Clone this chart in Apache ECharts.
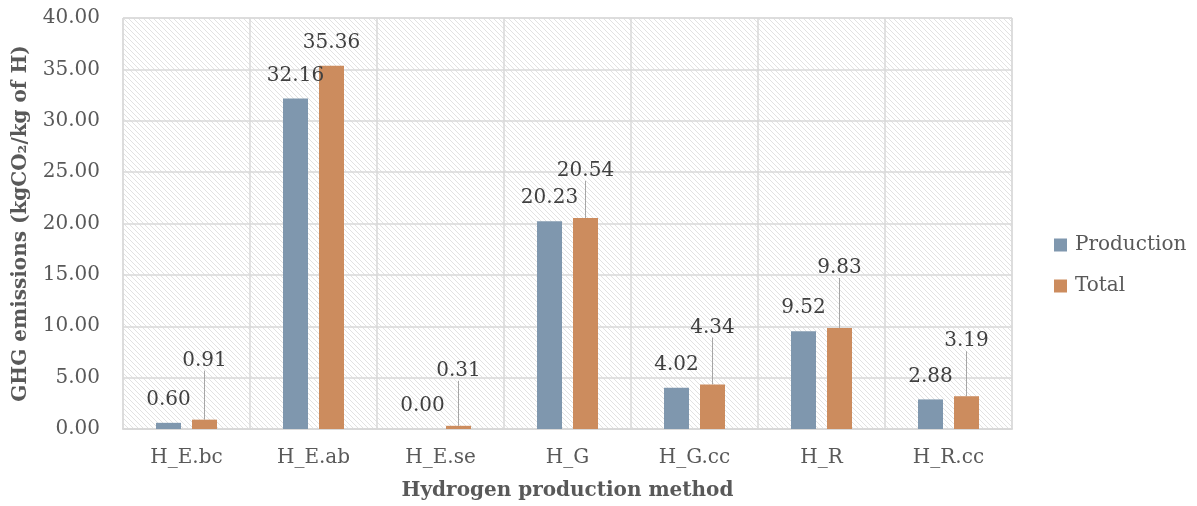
<!DOCTYPE html>
<html>
<head>
<meta charset="utf-8">
<script src="https://cdn.jsdelivr.net/npm/echarts@6/dist/echarts.min.js"></script>
<style>
  html, body { margin: 0; padding: 0; background: #ffffff; }
  #chart { width: 1197px; height: 506px; }
</style>
</head>
<body>
<div id="chart"></div>
<script>
// Hydrogen production routes and their GHG emissions (kgCO2 per kg of H)
const categories = ['H_E.bc', 'H_E.ab', 'H_E.se', 'H_G', 'H_G.cc', 'H_R', 'H_R.cc'];
const production = [0.60, 32.16, 0.00, 20.23, 4.02, 9.52, 2.88];
const total = [0.91, 35.36, 0.31, 20.54, 4.34, 9.83, 3.19];
const yTicks = { min: 0, max: 40, step: 5 };

// How far each "Total" label is pushed up above its bar (with a guide line)
const totalLabelRise = [36, 0, 32, 24, 34, 37, 32];

const FONT = "'DejaVu Serif', 'Liberation Serif', serif";
const TEXT = '#595959';
const LABEL = '#404040';
const GRID = '#d9d9d9';

// Fine diagonal hatching for the plot background
function hatchPattern() {
  const n = 5;
  const c = document.createElement('canvas');
  c.width = n; c.height = n;
  const g = c.getContext('2d');
  g.fillStyle = '#ffffff';
  g.fillRect(0, 0, n, n);
  g.strokeStyle = '#e2e2e2';
  g.lineWidth = 1;
  g.beginPath();
  g.moveTo(-1, -1); g.lineTo(n + 1, n + 1);
  g.moveTo(-1, n - 1); g.lineTo(1, n + 1);
  g.moveTo(n - 1, -1); g.lineTo(n + 1, 1);
  g.stroke();
  return { image: c, repeat: 'repeat' };
}

// Total bars: a guide line only where the label is lifted
const totalData = total.map((v, i) => ({
  value: v,
  labelLine: { show: totalLabelRise[i] > 0 }
}));

const chart = echarts.init(document.getElementById('chart'), null, { renderer: 'canvas' });

chart.setOption({
  animation: false,
  textStyle: { fontFamily: FONT },
  grid: {
    left: 123, right: 185, top: 18, bottom: 76,
    show: true,
    backgroundColor: hatchPattern(),
    borderColor: GRID,
    borderWidth: 1
  },
  legend: {
    orient: 'vertical',
    left: 1054,
    top: 235,
    padding: 0,
    itemWidth: 13,
    itemHeight: 13,
    itemGap: 21,
    icon: 'rect',
    textStyle: { fontFamily: FONT, fontSize: 20, color: TEXT, padding: [0, 0, 0, 3] },
    data: ['Production', 'Total']
  },
  xAxis: {
    type: 'category',
    data: categories,
    name: 'Hydrogen production method',
    nameLocation: 'middle',
    nameGap: 52,
    nameTextStyle: { fontFamily: FONT, fontSize: 20, fontWeight: 'bold', color: TEXT },
    axisLine: { show: true, lineStyle: { color: GRID, width: 2 } },
    axisTick: { show: false },
    axisLabel: { fontFamily: FONT, fontSize: 20, color: TEXT, margin: 19 },
    splitLine: { show: true, lineStyle: { color: GRID, width: 1.5 } }
  },
  yAxis: {
    type: 'value',
    min: yTicks.min,
    max: yTicks.max,
    interval: yTicks.step,
    name: 'GHG emissions (kgCO\u2082/kg of H)',
    nameLocation: 'middle',
    nameGap: 92,
    nameTextStyle: { fontFamily: FONT, fontSize: 20, fontWeight: 'bold', color: TEXT },
    axisLine: { show: false },
    axisTick: { show: false },
    axisLabel: {
      fontFamily: FONT, fontSize: 20, color: TEXT, margin: 23,
      formatter: v => v.toFixed(2)
    },
    splitLine: { show: true, lineStyle: { color: GRID, width: 1.5 } }
  },
  series: [
    {
      name: 'Production',
      type: 'bar',
      data: production,
      barWidth: 25,
      barGap: '44%',
      itemStyle: { color: '#7f97ae' },
      label: {
        show: true, position: 'top', distance: 13,
        fontFamily: FONT, fontSize: 20, color: LABEL,
        formatter: p => p.value.toFixed(2)
      }
    },
    {
      name: 'Total',
      type: 'bar',
      data: totalData,
      barWidth: 25,
      itemStyle: { color: '#cc8c5e' },
      label: {
        show: true, position: 'top', distance: 13,
        fontFamily: FONT, fontSize: 20, color: LABEL,
        formatter: p => p.value.toFixed(2)
      },
      labelLine: { show: true, lineStyle: { color: '#a6a6a6', width: 1 } },
      labelLayout: p => ({ dy: -totalLabelRise[p.dataIndex] })
    }
  ]
});
</script>
</body>
</html>
